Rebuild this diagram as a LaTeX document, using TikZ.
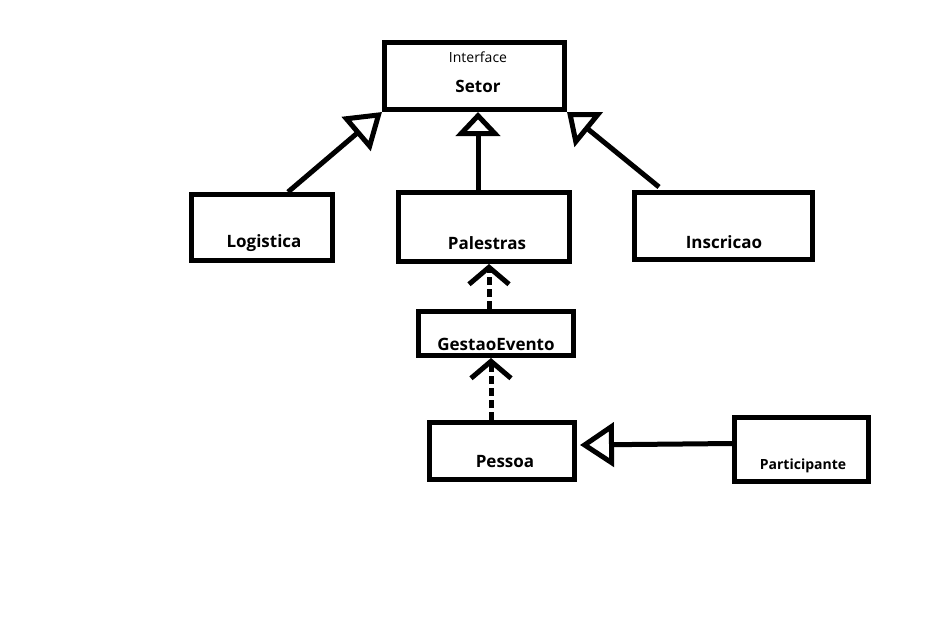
\documentclass[tikz,border=0pt]{standalone}
\usepackage{fontspec}
\setmainfont{Open Sans}
\usetikzlibrary{arrows.meta,calc}
\tikzset{
  box/.style={draw, line width=5pt, inner sep=0pt},
  lbl/.style={font=\bfseries\fontsize{17}{19}\selectfont, inner sep=0pt},
  small/.style={font=\bfseries\fontsize{14}{16}\selectfont, inner sep=0pt},
  inh/.style={line width=5pt, -{Triangle[open, length=#1, width=44pt, line width=5pt]}},
  inh/.default=28pt,
  dep/.style={line width=5pt, dash pattern=on 8pt off 4pt, -{Straight Barb[length=17pt, width=40pt, line width=5pt]}}
}
\begin{document}
\begin{tikzpicture}[x=1pt,y=-1pt]
\useasboundingbox[fill=white] (0,0) rectangle (944,625);
% boxes
\node[box, minimum width=180pt, minimum height=67pt] (Setor) at (474.5,76) {};
\node[box, minimum width=141pt, minimum height=66pt] (Logistica) at (262,227.5) {};
\node[box, minimum width=171pt, minimum height=69pt] (Palestras) at (484,227) {};
\node[box, minimum width=178pt, minimum height=67pt] (Inscricao) at (723.5,226) {};
\node[box, minimum width=155pt, minimum height=44pt] (GestaoEvento) at (496,333.5) {};
\node[box, minimum width=145pt, minimum height=57pt] (Pessoa) at (502,451) {};
\node[box, minimum width=134pt, minimum height=64pt] (Participante) at (801.5,449.5) {};
% texts
\node[inner sep=0pt, font=\fontsize{14}{16}\selectfont] (SetorI) at (478,57) {Interface};
\node[lbl] (SetorT) at (478,86) {Setor};
\node[lbl] (LogisticaT) at (264,243) {Logistica};
\node[lbl] (PalestrasT) at (487,243) {Palestras};
\node[lbl] (InscricaoT) at (724,242) {Inscricao};
\node[lbl] (GestaoEventoT) at (496,344) {GestaoEvento};
\node[lbl] (PessoaT) at (505,462) {Pessoa};
\node[small] (ParticipanteT) at (803,466) {Participante};
% connectors
\draw[inh=34pt] ($(Logistica.north west)+(99,0)$) -- (Setor.south west);
\draw[inh=24pt] ($(Palestras.north)+(-6,0)$) -- ($(Setor.south)+(3.5,0)$);
\draw[inh=28pt] ($(Inscricao.north west)+(27,-3)$) -- (Setor.south east);
\draw[dep] ($(GestaoEvento.north)+(-7,0)$) -- ($(Palestras.south)+(5,0)$);
\draw[dep] ($(Pessoa.north)+(-11,0)$) -- ($(GestaoEvento.south)+(-5,0)$);
\draw[inh=34pt] ($(Participante.west)+(0,-6)$) -- ($(Pessoa.east)+(3,-6)$);
\end{tikzpicture}
\end{document}
